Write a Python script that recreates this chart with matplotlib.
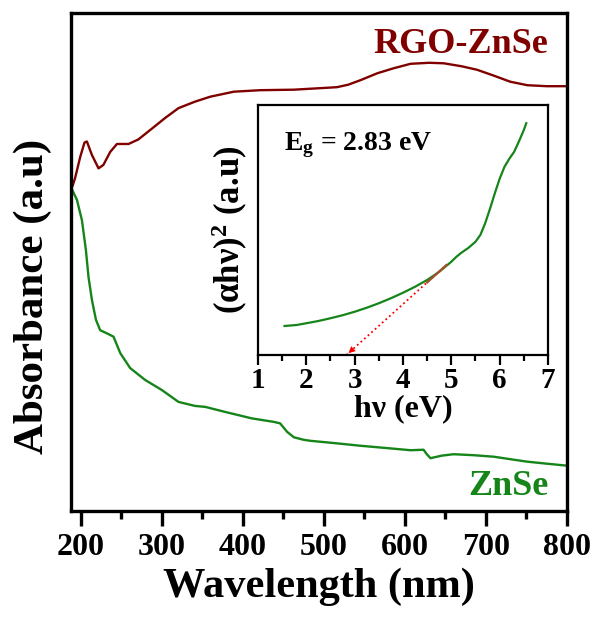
import matplotlib
matplotlib.use('Agg')
import matplotlib.pyplot as plt
from matplotlib.ticker import MultipleLocator

plt.rcParams['font.family'] = ['Liberation Serif', 'DejaVu Serif']
plt.rcParams['font.weight'] = 'bold'
plt.rcParams['mathtext.fontset'] = 'custom'
plt.rcParams['mathtext.rm'] = 'Liberation Serif:bold'
plt.rcParams['mathtext.it'] = 'Liberation Serif:bold'
plt.rcParams['mathtext.bf'] = 'Liberation Serif:bold'

# RGO-ZnSe absorbance (arbitrary units)
rgo_wl = [190, 193, 199.4, 204.7, 207.6, 213.8, 222, 228, 236.4, 244.7, 259, 271, 288,
          304, 320.7, 341, 360, 389, 421.6, 463, 516, 530, 545, 566, 586, 607, 630,
          648, 670, 689, 710, 730, 751, 775, 800]
rgo_abs = [0.653, 0.668, 0.711, 0.740, 0.742, 0.715, 0.688, 0.695, 0.721, 0.737, 0.737,
           0.746, 0.768, 0.789, 0.809, 0.822, 0.832, 0.842, 0.845, 0.846, 0.851, 0.856,
           0.865, 0.879, 0.889, 0.898, 0.900, 0.899, 0.893, 0.886, 0.874, 0.862, 0.855,
           0.853, 0.853]

# ZnSe absorbance (arbitrary units)
znse_wl = [190, 195.3, 201.5, 206.4, 209.6, 213.8, 218.8, 224, 232, 240.5, 248.8, 261,
           279.6, 300, 320.7, 341, 353.7, 378, 411, 438, 446, 454.6, 463, 475, 483, 515,
           545, 580, 607, 623, 627, 631.5, 645, 660, 685, 709.6, 730, 751, 775, 800]
znse_abs = [0.643, 0.625, 0.584, 0.524, 0.470, 0.424, 0.384, 0.363, 0.357, 0.350, 0.317,
            0.287, 0.263, 0.243, 0.219, 0.211, 0.209, 0.199, 0.186, 0.179, 0.176, 0.159,
            0.148, 0.143, 0.141, 0.136, 0.131, 0.126, 0.122, 0.123, 0.114, 0.106, 0.111,
            0.114, 0.112, 0.109, 0.104, 0.099, 0.095, 0.091]

# Tauc plot (inset)
tauc_e = [1.55, 1.8, 2.0, 2.25, 2.5, 2.75, 3.0, 3.25, 3.5, 3.75, 4.0, 4.25, 4.5, 4.75,
          5.0, 5.1, 5.2, 5.35, 5.5, 5.6, 5.7, 5.8, 5.9, 6.0, 6.1, 6.2, 6.3, 6.4, 6.5, 6.55]
tauc_y = [0.116, 0.120, 0.127, 0.136, 0.147, 0.159, 0.173, 0.189, 0.207, 0.227, 0.249,
          0.273, 0.300, 0.333, 0.373, 0.392, 0.408, 0.428, 0.453, 0.480, 0.527, 0.585,
          0.647, 0.705, 0.753, 0.785, 0.813, 0.855, 0.900, 0.927]
eg = 2.83
tangent_x = [2.83, 4.9]
tangent_y = [0.0, 0.36]
fit_x = [4.5, 4.9]  # section of the curve used for the linear fit

red = '#800000'
green = '#15851a'
tick_col = 'black'

fig = plt.figure(figsize=(5.98, 6.19), dpi=100)
ax = fig.add_axes([0.1187, 0.1745, 0.8295, 0.8045])

ax.plot(rgo_wl, rgo_abs, color=red, lw=1.7)
ax.plot(znse_wl, znse_abs, color=green, lw=1.7)

ax.set_xlim(188, 800)
ax.set_ylim(0, 1)
ax.xaxis.set_major_locator(MultipleLocator(100))
ax.xaxis.set_minor_locator(MultipleLocator(50))
ax.tick_params(axis='x', which='major', direction='out', length=11, width=2.4,
               color=tick_col, labelsize=23, pad=5)
ax.tick_params(axis='x', which='minor', direction='out', length=6, width=2.4,
               color=tick_col)
ax.tick_params(axis='y', which='both', left=False, labelleft=False)
for s in ax.spines.values():
    s.set_linewidth(2.4)

ax.set_xlabel('Wavelength (nm)', fontsize=30.5, fontweight='bold', labelpad=4)
ax.set_ylabel('Absorbance (a.u)', fontsize=31, fontweight='bold')
ax.yaxis.set_label_coords(-0.038, 0.43)

ax.text(0.962, 0.92, 'RGO-ZnSe', transform=ax.transAxes, color=red, fontsize=26,
        fontweight='bold', ha='right', va='baseline')
ax.text(0.962, 0.032, 'ZnSe', transform=ax.transAxes, color=green, fontsize=26,
        fontweight='bold', ha='right', va='baseline')

# inset
ins = fig.add_axes([0.4314, 0.4265, 0.485, 0.4039])
ins.plot(tauc_e, tauc_y, color=green, lw=1.6)
ins.plot(tangent_x, tangent_y, color='red', ls=':', lw=1.3)
slope = (tangent_y[1] - tangent_y[0]) / (tangent_x[1] - tangent_x[0])
ins.plot(fit_x, [tangent_y[0] + slope * (x - tangent_x[0]) for x in fit_x],
         color='#a0522d', lw=1.6)
ins.annotate('', xy=(eg, 0), xytext=(eg + 0.25, 0.25 * slope),
             arrowprops=dict(arrowstyle='-|>', color='red', lw=0, mutation_scale=12))
ins.set_xlim(1, 7)
ins.set_ylim(0, 1)
ins.xaxis.set_major_locator(MultipleLocator(1))
ins.xaxis.set_minor_locator(MultipleLocator(0.5))
ins.tick_params(axis='x', which='major', direction='out', length=7, width=1.6,
                color=tick_col, labelsize=21, pad=2)
ins.tick_params(axis='x', which='minor', direction='out', length=4, width=1.6,
                color=tick_col)
ins.tick_params(axis='y', which='both', left=False, labelleft=False)
for s in ins.spines.values():
    s.set_linewidth(1.6)
ins.set_xlabel('h\u03bd (eV)', fontsize=23, fontweight='bold', labelpad=0)
ins.set_ylabel('(\u03b1h\u03bd)$^2$ (a.u)', fontsize=25, fontweight='bold', labelpad=6)
ins.text(0.09, 0.82, 'E$_\\mathregular{g}$ = 2.83 eV', transform=ins.transAxes,
         fontsize=20, fontweight='bold', ha='left', va='baseline')

fig.savefig('out.png', dpi=100)
